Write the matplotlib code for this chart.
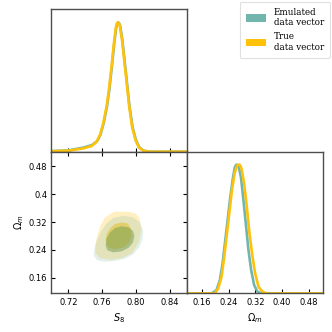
import numpy as np
import matplotlib
matplotlib.use('Agg')
from matplotlib import pyplot as plt
from matplotlib.patches import Patch, Polygon

TEAL = '#72b5ad'
GOLD = '#ffc20a'

labels = ['Emulated\ndata vector', 'True\ndata vector']

# marginal of S8 (normalised to peak = 1)
s8_x_true = [0.700, 0.7200, 0.7377, 0.7475, 0.7534, 0.7573, 0.7612, 0.7651, 0.7679, 0.7710,
             0.7738, 0.7761, 0.7773, 0.7785, 0.7797, 0.7808, 0.7832, 0.7859, 0.7887, 0.7918,
             0.7953, 0.7993, 0.8032, 0.8083, 0.8161, 0.860]
s8_p_true = [0.004, 0.008, 0.026, 0.044, 0.078, 0.13, 0.22, 0.35, 0.48, 0.66,
             0.84, 0.96, 0.99, 1.0, 0.99, 0.97, 0.87, 0.71, 0.54, 0.35,
             0.19, 0.09, 0.034, 0.008, 0.0, 0.0]
s8_x_emu = [0.700, 0.7200, 0.7377, 0.7480, 0.7540, 0.7578, 0.7617, 0.7656, 0.7684, 0.7714,
            0.7742, 0.7765, 0.7777, 0.7789, 0.7801, 0.7812, 0.7836, 0.7863, 0.7891, 0.7922,
            0.7958, 0.7998, 0.8037, 0.8088, 0.8166, 0.860]
s8_p_emu = [0.005, 0.010, 0.032, 0.052, 0.082, 0.13, 0.22, 0.35, 0.48, 0.66,
            0.84, 0.96, 0.99, 1.0, 0.99, 0.97, 0.87, 0.71, 0.54, 0.35,
            0.19, 0.09, 0.034, 0.008, 0.0, 0.0]

# marginal of Omega_m
om_x_emu = [0.115, 0.1886, 0.2037, 0.2138, 0.2219, 0.2289, 0.2360, 0.2440, 0.2521, 0.2581,
            0.2612, 0.2642, 0.2672, 0.2712, 0.2773, 0.2843, 0.2924, 0.2994, 0.3075, 0.3165,
            0.3266, 0.3397, 0.520]
om_p_emu = [0.0, 0.0, 0.026, 0.104, 0.234, 0.390, 0.545, 0.727, 0.883, 0.974,
            0.993, 1.0, 0.993, 0.974, 0.896, 0.727, 0.519, 0.338, 0.182, 0.065,
            0.013, 0.0, 0.0]
om_x_true = [0.115, 0.1987, 0.2088, 0.2189, 0.2269, 0.2340, 0.2420, 0.2501, 0.2581, 0.2652,
             0.2687, 0.2722, 0.2757, 0.2793, 0.2863, 0.2944, 0.3024, 0.3115, 0.3195, 0.3296,
             0.3417, 0.3548, 0.520]
om_p_true = [0.0, 0.0, 0.039, 0.130, 0.286, 0.442, 0.623, 0.805, 0.935, 0.992,
             0.998, 1.0, 0.990, 0.961, 0.857, 0.675, 0.468, 0.286, 0.156, 0.052,
             0.013, 0.0, 0.0]

# 2D contours (S8, Omega_m), outer = 95%, inner = 68%
emu_outer_s8 = [0.7847, 0.7965, 0.8044, 0.8083, 0.8075, 0.8036, 0.7965, 0.7867, 0.7749, 0.7632,
                0.7542, 0.7502, 0.7506, 0.7534, 0.7581, 0.7644, 0.7730]
emu_outer_om = [0.3383, 0.3335, 0.3190, 0.2949, 0.2709, 0.2468, 0.2275, 0.2150, 0.2082, 0.2063,
                0.2102, 0.2227, 0.2420, 0.2660, 0.2901, 0.3142, 0.3316]
emu_inner_s8 = [0.7828, 0.7910, 0.7962, 0.7980, 0.7962, 0.7910, 0.7828, 0.7730, 0.7660, 0.7640,
                0.7650, 0.7690, 0.7752]
emu_inner_om = [0.3080, 0.3050, 0.2949, 0.2805, 0.2612, 0.2460, 0.2360, 0.2330, 0.2390, 0.2535,
                0.2728, 0.2901, 0.3030]
true_outer_s8 = [0.7691, 0.7749, 0.7887, 0.7985, 0.8036, 0.8065, 0.8030, 0.7952, 0.7832, 0.7691,
                 0.7573, 0.7520, 0.7520, 0.7540, 0.7578, 0.7624]
true_outer_om = [0.3431, 0.3499, 0.3499, 0.3460, 0.3335, 0.2998, 0.2612, 0.2310, 0.2165, 0.2115,
                 0.2165, 0.2310, 0.2564, 0.2805, 0.3094, 0.3306]
true_inner_s8 = [0.7651, 0.7691, 0.7749, 0.7828, 0.7898, 0.7934, 0.7946, 0.7918, 0.7847, 0.7749,
                 0.7671, 0.7640]
true_inner_om = [0.2853, 0.3017, 0.3142, 0.3190, 0.3162, 0.3046, 0.2805, 0.2612, 0.2468, 0.2420,
                 0.2468, 0.2660]

s8_lim = (0.70, 0.86)
om_lim = (0.115, 0.522)
s8_ticks = [0.72, 0.76, 0.80, 0.84]
s8_ticklabels = ['0.72', '0.76', '0.80', '0.84']
om_ticks = [0.16, 0.24, 0.32, 0.40, 0.48]
om_ylabels = ['0.16', '0.24', '0.32', '0.4', '0.48']
om_xlabels = ['0.16', '0.24', '0.32', '0.40', '0.48']


def style(ax):
    for s in ax.spines.values():
        s.set_color('0.3')
        s.set_linewidth(1.0)
    ax.tick_params(direction='in', length=3, width=0.8, labelsize=6, pad=3,
                   top=False, right=False)


fig = plt.figure(figsize=(3.32, 3.32), dpi=100)
ax_top = fig.add_axes([0.155, 0.543, 0.408, 0.429])
ax_2d = fig.add_axes([0.155, 0.116, 0.408, 0.427])
ax_om = fig.add_axes([0.563, 0.116, 0.409, 0.427])

# top-left: S8 marginal
style(ax_top)
ax_top.plot(s8_x_emu, s8_p_emu, color=TEAL, lw=1.9)
ax_top.plot(s8_x_true, s8_p_true, color=GOLD, lw=1.9)
ax_top.set_xlim(*s8_lim)
ax_top.set_ylim(0, 1.1)
ax_top.set_xticks(s8_ticks)
ax_top.set_xticklabels([])
ax_top.set_yticks([])

# bottom-left: 2D contours
style(ax_2d)
ax_2d.add_patch(Polygon(np.column_stack([true_outer_s8, true_outer_om]), closed=True,
                        facecolor=GOLD, alpha=0.25, lw=0))
ax_2d.add_patch(Polygon(np.column_stack([true_inner_s8, true_inner_om]), closed=True,
                        facecolor=GOLD, alpha=0.55, lw=0))
ax_2d.add_patch(Polygon(np.column_stack([emu_outer_s8, emu_outer_om]), closed=True,
                        facecolor='#7cb8a8', alpha=0.22, lw=0))
ax_2d.add_patch(Polygon(np.column_stack([emu_inner_s8, emu_inner_om]), closed=True,
                        facecolor='#709c4f', alpha=0.5, lw=0))
ax_2d.set_xlim(*s8_lim)
ax_2d.set_ylim(*om_lim)
ax_2d.set_xticks(s8_ticks)
ax_2d.set_xticklabels(s8_ticklabels)
ax_2d.set_yticks(om_ticks)
ax_2d.set_yticklabels(om_ylabels)
ax_2d.tick_params(top=True, right=True)
ax_2d.set_xlabel(r'$S_8$', fontsize=7, labelpad=3)
ax_2d.set_ylabel(r'$\Omega_m$', fontsize=7, labelpad=2)

# bottom-right: Omega_m marginal
style(ax_om)
ax_om.plot(om_x_emu, om_p_emu, color=TEAL, lw=1.9)
ax_om.plot(om_x_true, om_p_true, color=GOLD, lw=1.9)
ax_om.set_xlim(*om_lim)
ax_om.set_ylim(0, 1.1)
ax_om.set_xticks(om_ticks)
ax_om.set_xticklabels(om_xlabels)
ax_om.set_yticks([])
ax_om.set_xlabel(r'$\Omega_m$', fontsize=7, labelpad=3)

handles = [Patch(facecolor=TEAL, edgecolor='none'), Patch(facecolor=GOLD, edgecolor='none')]
leg = fig.legend(handles, labels, loc='upper right', bbox_to_anchor=(0.994, 0.995),
                 borderaxespad=0.0, prop={'family': 'DejaVu Serif', 'size': 6.3},
                 handlelength=2.3, handleheight=0.9, labelspacing=0.6, borderpad=0.7,
                 handletextpad=0.9, frameon=True, fancybox=True)
leg.get_frame().set_edgecolor('0.85')
leg.get_frame().set_linewidth(0.8)

fig.savefig('out.png', dpi=100)
